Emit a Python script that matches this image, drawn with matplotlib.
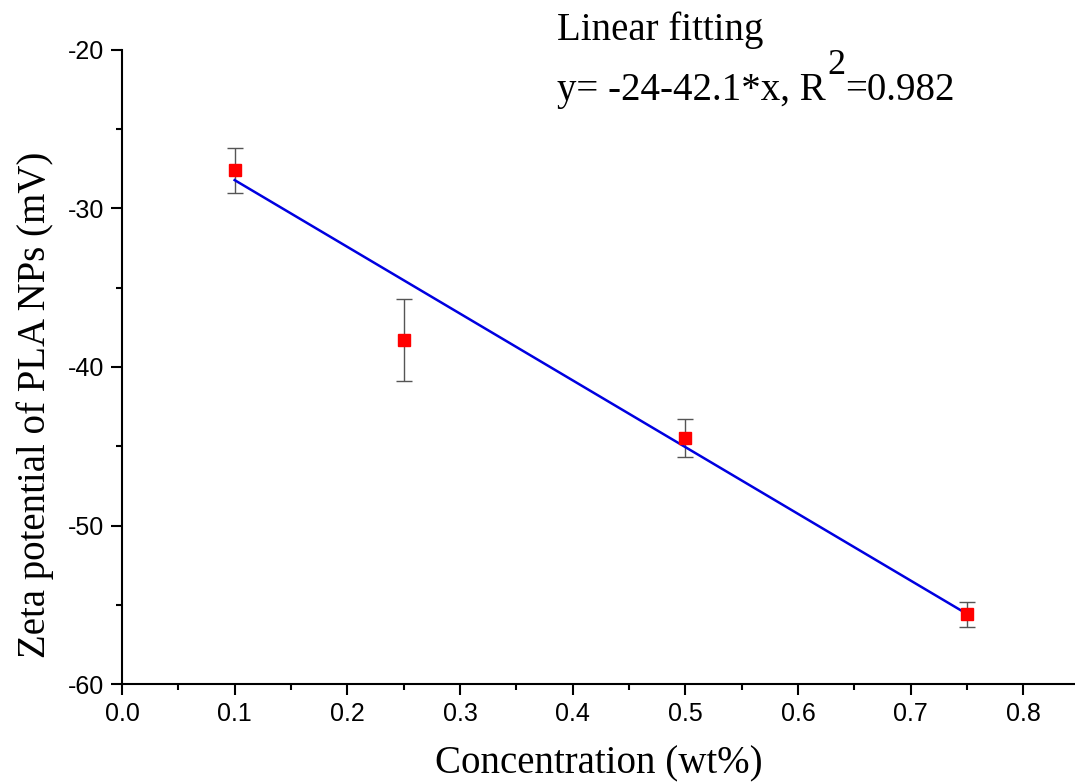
import numpy as np
import matplotlib
matplotlib.use('Agg')
import matplotlib.pyplot as plt
from matplotlib.ticker import MultipleLocator

# Concentración de PLA y potencial zeta medido
concentracion = [0.10, 0.25, 0.50, 0.75]
zeta = [-27.6, -38.3, -44.5, -55.6]
zeta_err = [1.4, 2.6, 1.2, 0.8]

# Ajuste lineal y = a + b*x
intercepto = -24.0
pendiente = -42.1
r2 = 0.982

plt.rcParams['font.family'] = 'Liberation Sans'
plt.rcParams['axes.unicode_minus'] = False
plt.rcParams['xtick.labelsize'] = 18
plt.rcParams['ytick.labelsize'] = 18

fig = plt.figure(figsize=(10.75, 7.82), dpi=100)
ax = fig.add_axes([0.1135, 0.1253, 0.8865, 0.8108])

x_fit = np.array([concentracion[0], concentracion[-1]])
ax.plot(x_fit, intercepto + pendiente * x_fit, color='#0000e0', linewidth=1.8, zorder=2)

ax.errorbar(concentracion, zeta, yerr=zeta_err, fmt='none', ecolor='#555555',
            elinewidth=1.0, capsize=6, capthick=1.0, zorder=1)
ax.plot(concentracion, zeta, 's', color='red', markersize=9, zorder=3)

ax.set_xlim(0, 0.846)
ax.set_ylim(-60, -20)
ax.xaxis.set_major_locator(MultipleLocator(0.1))
ax.xaxis.set_minor_locator(MultipleLocator(0.05))
ax.yaxis.set_major_locator(MultipleLocator(10))
ax.yaxis.set_minor_locator(MultipleLocator(5))

for lado in ['top', 'right']:
    ax.spines[lado].set_visible(False)
for lado in ['left', 'bottom']:
    ax.spines[lado].set_linewidth(1.5)

ax.tick_params(which='major', direction='out', length=8, width=1.5, pad=5)
ax.tick_params(which='minor', direction='out', length=4, width=1.5)

ax.set_xlabel('Concentration (wt%)', fontsize=28, family='Liberation Serif', labelpad=14)
ax.set_ylabel('Zeta potential of PLA NPs (mV)', fontsize=28, family='Liberation Serif',
              labelpad=10, y=0.44)

# Texto del ajuste, con el superíndice del R^2 armado en partes
serif = 'Liberation Serif'
base_y = 0.872
fig.text(0.518, 0.949, 'Linear fitting', fontsize=28, family=serif, va='baseline')
parte1 = fig.text(0.518, base_y, 'y= %g%g*x, R' % (intercepto, pendiente),
                  fontsize=28, family=serif, va='baseline')
sup = ax.annotate('2', xy=(1, base_y), xycoords=(parte1, 'figure fraction'),
                  xytext=(1, 19), textcoords='offset points',
                  fontsize=26, family=serif, va='baseline', annotation_clip=False)
ax.annotate('=%.3f' % r2, xy=(1, base_y), xycoords=(sup, 'figure fraction'),
            xytext=(0, 0), textcoords='offset points',
            fontsize=28, family=serif, va='baseline', annotation_clip=False)

fig.savefig('out.png', dpi=100)
